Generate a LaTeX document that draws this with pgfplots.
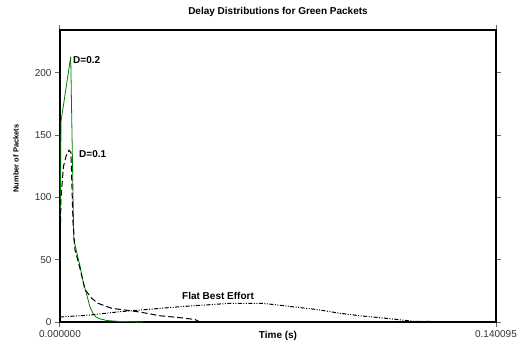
\documentclass[border=0pt]{standalone}
\usepackage{pgfplots}
\pgfplotsset{compat=1.18}
\usepackage{fontspec}
\setmainfont{Liberation Sans}
\definecolor{dgreen}{RGB}{0,128,0}
\begin{document}
\begin{tikzpicture}[x=1pt,y=1pt]
\useasboundingbox (-60,-21) rectangle (466,322);
\begin{axis}[
  scale only axis,
  width=436pt, height=292pt,
  at={(0,0)}, anchor=south west,
  xmin=0, xmax=0.140095,
  ymin=0, ymax=234.5,
  axis line style={black, line width=1.1pt},
  tick align=outside,
  major tick length=5pt,
  tick style={gray!80!black, line width=1pt},
  xtick={0,0.140095},
  xticklabels={0.000000,0.140095},
  ytick={0,50,100,150,200},
  xtick pos=both, ytick pos=both,
  xticklabel pos=lower, yticklabel pos=left,
  tick label style={font=\fontsize{10}{12}\selectfont, text=black!80},
  /pgf/number format/assume math mode=true,
  scaled x ticks=false,
  clip=false,
]
\addplot[dgreen, line width=0.8pt] coordinates {
(0.0001,85) (0.00032,161) (0.00344,213) (0.00443,66) (0.00643,45) (0.00739,33)
(0.00803,27) (0.0090,18) (0.00964,12) (0.0106,7) (0.01157,4) (0.01285,2.5)
(0.0151,1.2) (0.01928,0.4) (0.02667,0)
};
\addplot[black, line width=1pt, dash pattern=on 6pt off 3pt] coordinates {
(0,58) (0.00032,100) (0.00112,125) (0.00193,133) (0.00289,138) (0.00353,136)
(0.00418,80) (0.00482,58) (0.00643,43) (0.00803,26) (0.01019,19) (0.01221,15)
(0.01661,11) (0.02089,9.6) (0.02571,8) (0.03213,5) (0.03856,3.5) (0.04338,2) (0.04498,0)
};
\addplot[black, line width=1pt, dash pattern=on 4pt off 1.5pt on 1pt off 1.5pt on 1pt off 1.5pt] coordinates {
(0,4) (0.00964,5.6) (0.01928,8.3) (0.02571,9.6) (0.03856,12.3) (0.05462,15)
(0.06523,15) (0.07390,12.5) (0.08258,10) (0.08997,7) (0.09640,5) (0.10379,3.2)
(0.10925,1.8) (0.11343,0.6) (0.12435,0.2) (0.140095,0)
};
\node[anchor=west, font=\bfseries\fontsize{10}{12}\selectfont, inner sep=0pt] at (axis cs:0.00418,210) {D=0.2};
\node[anchor=west, font=\bfseries\fontsize{10}{12}\selectfont, inner sep=0pt] at (axis cs:0.00611,135) {D=0.1};
\node[font=\bfseries\fontsize{10}{12}\selectfont, inner sep=0pt] at (axis cs:0.05077,20.9) {Flat Best Effort};
\node[font=\bfseries\fontsize{10}{12}\selectfont, inner sep=0pt] at (axis description cs:0.5,0) [yshift=-14pt] {Time (s)};
\node[font=\bfseries\fontsize{10}{12}\selectfont, inner sep=0pt] at (axis description cs:0.5,1) [yshift=18pt] {Delay Distributions for Green Packets};
\node[font=\bfseries\fontsize{7.5}{9}\selectfont, inner sep=0pt, xshift=-44pt, rotate=90] at (axis description cs:0,0.56) {Number of Packets};
\end{axis}
\end{tikzpicture}
\end{document}
